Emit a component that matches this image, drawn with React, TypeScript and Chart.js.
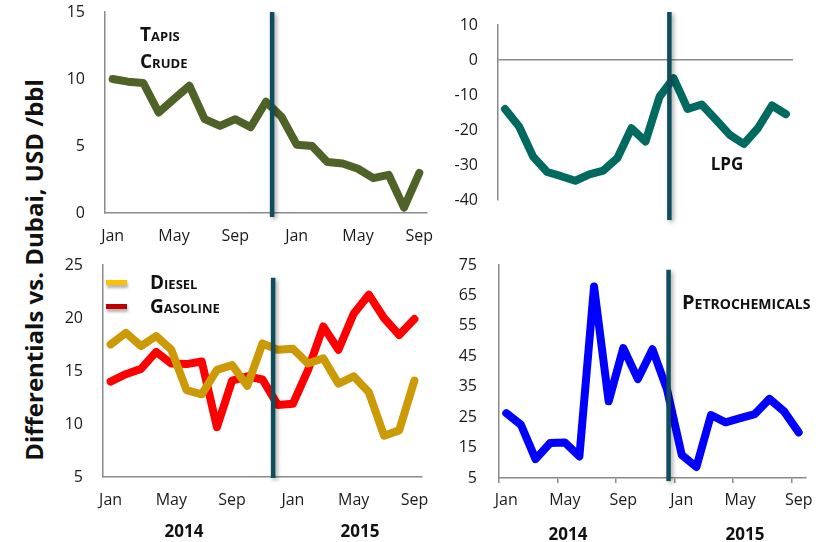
import React, { useEffect, useRef } from "react";
import { Chart, registerables } from "chart.js";

Chart.register(...registerables);

// ---------- data ----------
const months = ["Jan", "Feb", "Mar", "Apr", "May", "Jun", "Jul", "Aug", "Sep", "Oct", "Nov", "Dec",
  "Jan", "Feb", "Mar", "Apr", "May", "Jun", "Jul", "Aug", "Sep"];
const years = ["2014", "2015"];

const tapis = [10.0, 9.8, 9.7, 7.5, 8.5, 9.5, 7.0, 6.5, 7.0, 6.4, 8.3, 7.2, 5.1, 5.0, 3.8, 3.7, 3.3, 2.6, 2.85, 0.4, 3.0];
const lpg = [-14, -19, -27.6, -32, -33.2, -34.5, -32.7, -31.6, -28, -19.5, -23.3, -10.5, -5.2, -14, -12.7, -17, -21.4, -24, -19.5, -13, -15.5];
const diesel = [17.5, 18.6, 17.35, 18.3, 17.0, 13.2, 12.8, 15.1, 15.55, 13.6, 17.6, 17.0, 17.1, 15.7, 16.2, 13.8, 14.5, 13.0, 8.9, 9.4, 14.1];
const gasoline = [14.0, 14.7, 15.2, 16.8, 15.7, 15.65, 15.9, 9.7, 14.1, 14.5, 14.2, 11.8, 11.9, 15.1, 19.2, 17.0, 20.4, 22.2, 20.0, 18.4, 19.9];
const petrochemicals = [26.3, 22.5, 11.2, 16.5, 16.7, 12.1, 67.9, 30.2, 47.7, 37.5, 47.3, 34.0, 12.6, 8.6, 25.7, 23.3, 24.7, 26.0, 31.0, 26.9, 20.0];

const seriesNames = { tapis: "Tapis Crude", lpg: "LPG", diesel: "Diesel", gasoline: "Gasoline", petro: "Petrochemicals" };

// marker (vertical divider) position, as fractional month index, per panel
const markerIndex = { tapis: 10.4, lpg: 11.7, fuels: 10.7, petro: 11.1 };

const TICK_FONT = "'Open Sans', 'DejaVu Sans', sans-serif";
const AXIS_COLOR = "#8a8a8a";
const MARKER_COLOR = "#0f4c5c";

const markerPlugin = {
  id: "marker",
  afterDatasetsDraw(chart: any, _args: any, opts: any) {
    const xs = chart.scales.x;
    const ys = chart.scales.y;
    const px = xs.getPixelForValue(opts.index);
    const top = ys.getPixelForValue(opts.from);
    const bottom = ys.getPixelForValue(opts.to);
    const ctx = chart.ctx;
    ctx.save();
    ctx.shadowColor = "rgba(0,0,0,0.35)";
    ctx.shadowBlur = 4;
    ctx.shadowOffsetX = 2;
    ctx.shadowOffsetY = 2;
    ctx.strokeStyle = MARKER_COLOR;
    ctx.lineWidth = 4.5;
    ctx.beginPath();
    ctx.moveTo(px, top);
    ctx.lineTo(px, bottom);
    ctx.stroke();
    ctx.restore();
  },
};

type PanelProps = {
  left: number; top: number; width: number; height: number;
  pad: { top: number; right: number; bottom: number; left: number };
  yWidth: number; xHeight: number;
  yMin: number; yMax: number; yStep: number;
  datasets: { label: string; data: number[]; color: string }[];
  marker: { index: number; from: number; to: number };
  showX: boolean; xTickMarks?: boolean; zeroLine?: boolean;
  yPad: number; xPad: number;
};

function Panel(p: PanelProps) {
  const ref = useRef<HTMLCanvasElement>(null);
  useEffect(() => {
    if (!ref.current) return;
    const chart = new Chart(ref.current, {
      type: "line",
      data: {
        labels: months,
        datasets: p.datasets.map((d) => ({
          label: d.label,
          data: d.data,
          borderColor: d.color,
          backgroundColor: d.color,
          borderWidth: 8,
          pointRadius: 0,
          tension: 0,
          borderJoinStyle: "round" as const,
          borderCapStyle: "round" as const,
        })),
      },
      options: {
        animation: false,
        responsive: false,
        maintainAspectRatio: false,
        layout: { padding: p.pad },
        plugins: {
          legend: { display: false },
          tooltip: { enabled: false },
          marker: p.marker,
        } as any,
        scales: {
          x: {
            type: "category",
            offset: true,
            display: p.showX,
            grid: {
              display: !!p.xTickMarks,
              drawOnChartArea: false,
              drawTicks: !!p.xTickMarks,
              tickLength: 5,
              offset: true,
              lineWidth: 1.5,
              color: (c: any) => (c.index % 4 === 0 ? AXIS_COLOR : "rgba(0,0,0,0)"),
            },
            border: { display: true, color: AXIS_COLOR, width: 1.5 },
            ticks: {
              autoSkip: false,
              maxRotation: 0,
              padding: p.xPad,
              color: "#1a1a1a",
              font: { family: TICK_FONT, size: 16 },
              callback: (_v: any, i: number) => (i % 4 === 0 ? months[i] : ""),
            },
            afterFit: (s: any) => {
              s.height = p.xHeight;
              s.paddingLeft = 0;
              s.paddingRight = 0;
            },
          },
          y: {
            min: p.yMin,
            max: p.yMax,
            grid: {
              display: !!p.zeroLine,
              drawTicks: false,
              lineWidth: 1.5,
              color: (c: any) => (p.zeroLine && c.tick && c.tick.value === 0 ? AXIS_COLOR : "rgba(0,0,0,0)"),
            },
            border: { display: true, color: AXIS_COLOR, width: 1.5 },
            ticks: {
              stepSize: p.yStep,
              padding: p.yPad,
              color: "#1a1a1a",
              font: { family: TICK_FONT, size: 16 },
            },
            afterFit: (s: any) => {
              s.width = p.yWidth;
              s.paddingTop = 0;
              s.paddingBottom = 0;
            },
          },
        },
      },
      plugins: [markerPlugin],
    });
    return () => chart.destroy();
  }, []);
  return (
    <div style={{ position: "absolute", left: p.left, top: p.top, width: p.width, height: p.height }}>
      <canvas ref={ref} width={p.width} height={p.height} style={{ width: p.width, height: p.height }} />
    </div>
  );
}

const labelStyle: React.CSSProperties = {
  position: "absolute",
  fontFamily: "'Open Sans', 'DejaVu Sans', sans-serif",
  fontWeight: 700,
  color: "#111",
  whiteSpace: "nowrap",
  lineHeight: 1,
};

export default function App() {
  return (
    <div style={{ position: "absolute", left: 0, top: 0, width: 825, height: 542, background: "#fff", overflow: "hidden" }}>
      {/* y-axis title */}
      <div
        style={{
          ...labelStyle,
          left: 34,
          top: 270,
          fontSize: 24,
          transform: "translate(-50%, -50%) rotate(-90deg)",
        }}
      >
        Differentials vs. Dubai, USD /bbl
      </div>

      <Panel
        left={45} top={0} width={390} height={250}
        pad={{ top: 12, right: 8, bottom: 0, left: 0 }}
        yWidth={60} xHeight={37} yPad={20} xPad={14}
        yMin={0} yMax={15} yStep={5}
        datasets={[{ label: seriesNames.tapis, data: tapis, color: "#4f6228" }]}
        marker={{ index: markerIndex.tapis, from: 15, to: -0.3 }}
        showX={true}
      />
      <Panel
        left={435} top={0} width={370} height={230}
        pad={{ top: 25, right: 12, bottom: 30, left: 0 }}
        yWidth={63} xHeight={0} yPad={20} xPad={0}
        yMin={-40} yMax={10} yStep={10}
        datasets={[{ label: seriesNames.lpg, data: lpg, color: "#006a60" }]}
        marker={{ index: markerIndex.lpg, from: 13.7, to: -45.7 }}
        showX={false} zeroLine={true}
      />
      <Panel
        left={45} top={250} width={385} height={292}
        pad={{ top: 15, right: 8, bottom: 0, left: 0 }}
        yWidth={58} xHeight={65} yPad={20} xPad={14}
        yMin={5} yMax={25} yStep={5}
        datasets={[
          { label: seriesNames.diesel, data: diesel, color: "#cc9a06" },
          { label: seriesNames.gasoline, data: gasoline, color: "#ff0000" },
        ]}
        marker={{ index: markerIndex.fuels, from: 23.8, to: 4.9 }}
        showX={true}
      />
      <Panel
        left={435} top={250} width={380} height={292}
        pad={{ top: 15, right: 9, bottom: 0, left: 0 }}
        yWidth={64} xHeight={64} yPad={22} xPad={8}
        yMin={5} yMax={75} yStep={10}
        datasets={[{ label: seriesNames.petro, data: petrochemicals, color: "#0000ff" }]}
        marker={{ index: markerIndex.petro, from: 73.4, to: 4 }}
        showX={true} xTickMarks={true}
      />

      {/* panel annotations */}
      <div style={{ ...labelStyle, left: 140, top: 34, fontSize: 19, fontVariant: "small-caps", transform: "translateY(-50%)" }}>Tapis</div>
      <div style={{ ...labelStyle, left: 140, top: 61, fontSize: 19, fontVariant: "small-caps", transform: "translateY(-50%)" }}>Crude</div>
      <div style={{ ...labelStyle, left: 727, top: 163, fontSize: 17, transform: "translate(-50%, -50%)" }}>{seriesNames.lpg}</div>
      <div style={{ ...labelStyle, left: 682, top: 302, fontSize: 20, fontVariant: "small-caps", transform: "translateY(-50%)" }}>{seriesNames.petro}</div>

      {/* legend for diesel / gasoline */}
      {[
        { name: seriesNames.diesel, color: "#ffc000", y: 282 },
        { name: seriesNames.gasoline, color: "#c00000", y: 306 },
      ].map((l) => (
        <React.Fragment key={l.name}>
          <div style={{ position: "absolute", left: 106, top: l.y - 2.5, width: 21, height: 5, background: l.color, boxShadow: "1px 3px 3px rgba(0,0,0,0.3)" }} />
          <div style={{ ...labelStyle, left: 150, top: l.y, fontSize: 19, fontVariant: "small-caps", transform: "translateY(-50%)" }}>{l.name}</div>
        </React.Fragment>
      ))}

      {/* year labels */}
      <div style={{ ...labelStyle, left: 184, top: 530, fontSize: 17, transform: "translate(-50%, -50%)" }}>{years[0]}</div>
      <div style={{ ...labelStyle, left: 360, top: 530, fontSize: 17, transform: "translate(-50%, -50%)" }}>{years[1]}</div>
      <div style={{ ...labelStyle, left: 568, top: 533, fontSize: 17, transform: "translate(-50%, -50%)" }}>{years[0]}</div>
      <div style={{ ...labelStyle, left: 745, top: 533, fontSize: 17, transform: "translate(-50%, -50%)" }}>{years[1]}</div>
    </div>
  );
}
